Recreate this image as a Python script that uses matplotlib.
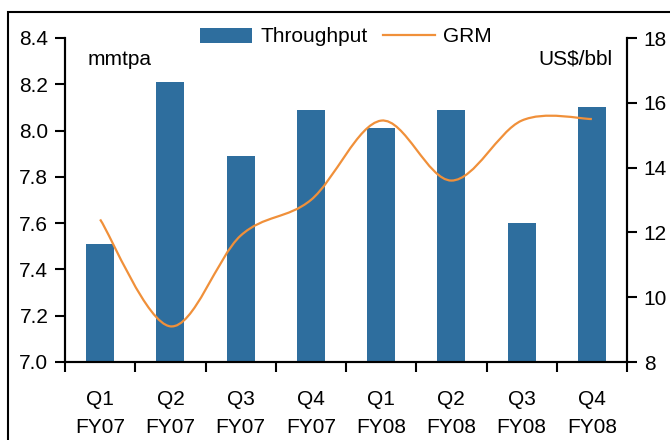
import numpy as np
import matplotlib
matplotlib.use("Agg")
import matplotlib.pyplot as plt
from matplotlib.path import Path
from matplotlib.patches import PathPatch, Rectangle, Patch
from matplotlib.lines import Line2D

plt.rcParams['font.family'] = ['Liberation Sans', 'DejaVu Sans']

quarters = ["Q1\nFY07", "Q2\nFY07", "Q3\nFY07", "Q4\nFY07",
            "Q1\nFY08", "Q2\nFY08", "Q3\nFY08", "Q4\nFY08"]
throughput = [7.51, 8.21, 7.89, 8.09, 8.01, 8.09, 7.60, 8.10]
grm = [12.4, 9.1, 11.9, 13.0, 15.45, 13.6, 15.45, 15.5]
left_ticks = [7.0, 7.2, 7.4, 7.6, 7.8, 8.0, 8.2, 8.4]
right_ticks = [8, 10, 12, 14, 16, 18]

bar_color = "#2E6E9E"
line_color = "#F0903A"
fs = 15

fig = plt.figure(figsize=(6.7, 4.4), dpi=100)
ax = fig.add_axes([65/670, 1-362/440, (627-65)/670, (362-38)/440])
x = np.arange(len(quarters))
ax.bar(x, throughput, width=0.4, color=bar_color, zorder=2)
ax.set_ylim(7.0, 8.4)
ax.set_xlim(-0.5, len(quarters)-0.5)
ax.set_yticks(left_ticks)
ax.set_yticklabels([f"{v:.1f}" for v in left_ticks], fontsize=fs)
ax.set_xticks(x)
ax.set_xticklabels(quarters, fontsize=fs, linespacing=1.62)
ax.set_xticks(np.arange(-0.5, len(quarters), 1), minor=True)
ax.tick_params(axis='x', which='major', length=0, pad=20)
ax.tick_params(axis='x', which='minor', length=7, width=1.5, direction='out')
ax.tick_params(axis='y', length=7, width=1.5, direction='out', pad=5)
ax.spines['top'].set_visible(False)
for s in ['left', 'bottom', 'right']:
    ax.spines[s].set_linewidth(1.5)

ax2 = ax.twinx()
ax2.set_ylim(8, 18)
ax2.set_yticks(right_ticks)
ax2.set_yticklabels([str(v) for v in right_ticks], fontsize=fs)
ax2.tick_params(axis='y', length=7, width=1.5, direction='out', pad=5)
ax2.spines['top'].set_visible(False)
for s in ['left', 'bottom', 'right']:
    ax2.spines[s].set_linewidth(1.5)

# smoothed line (Excel-style Bezier through data points)
pts = np.column_stack([x, grm]).astype(float)
n = len(pts)
verts = [tuple(pts[0])]
codes = [Path.MOVETO]
for i in range(n-1):
    p0 = pts[i-1] if i > 0 else pts[i]
    p1 = pts[i]
    p2 = pts[i+1]
    p3 = pts[i+2] if i+2 < n else pts[i+1]
    c1 = p1 + (p2 - p0)/6
    c2 = p2 - (p3 - p1)/6
    verts += [tuple(c1), tuple(c2), tuple(p2)]
    codes += [Path.CURVE4]*3
ax2.add_patch(PathPatch(Path(verts, codes), facecolor='none',
                        edgecolor=line_color, lw=1.6, zorder=3))

ax.text(0.04, 0.935, "mmtpa", transform=ax.transAxes, fontsize=fs,
        ha='left', va='center')
ax.text(0.975, 0.935, "US$/bbl", transform=ax.transAxes, fontsize=fs,
        ha='right', va='center')

handles = [Patch(facecolor=bar_color, edgecolor='none'),
           Line2D([0], [0], color=line_color, lw=1.6)]
fig.legend(handles, ["Throughput", "GRM"], loc='center',
           bbox_to_anchor=(346/670, 1-37/440), ncol=2, frameon=False,
           fontsize=fs, handlelength=2.5, handleheight=0.75,
           columnspacing=0.7, handletextpad=0.4, borderpad=0)

fig.add_artist(Rectangle((8/670, -0.1), 1.2, 1-12/440+0.1,
                         transform=fig.transFigure, fill=False,
                         edgecolor='black', lw=1.5))

fig.savefig("out.png", dpi=100)
